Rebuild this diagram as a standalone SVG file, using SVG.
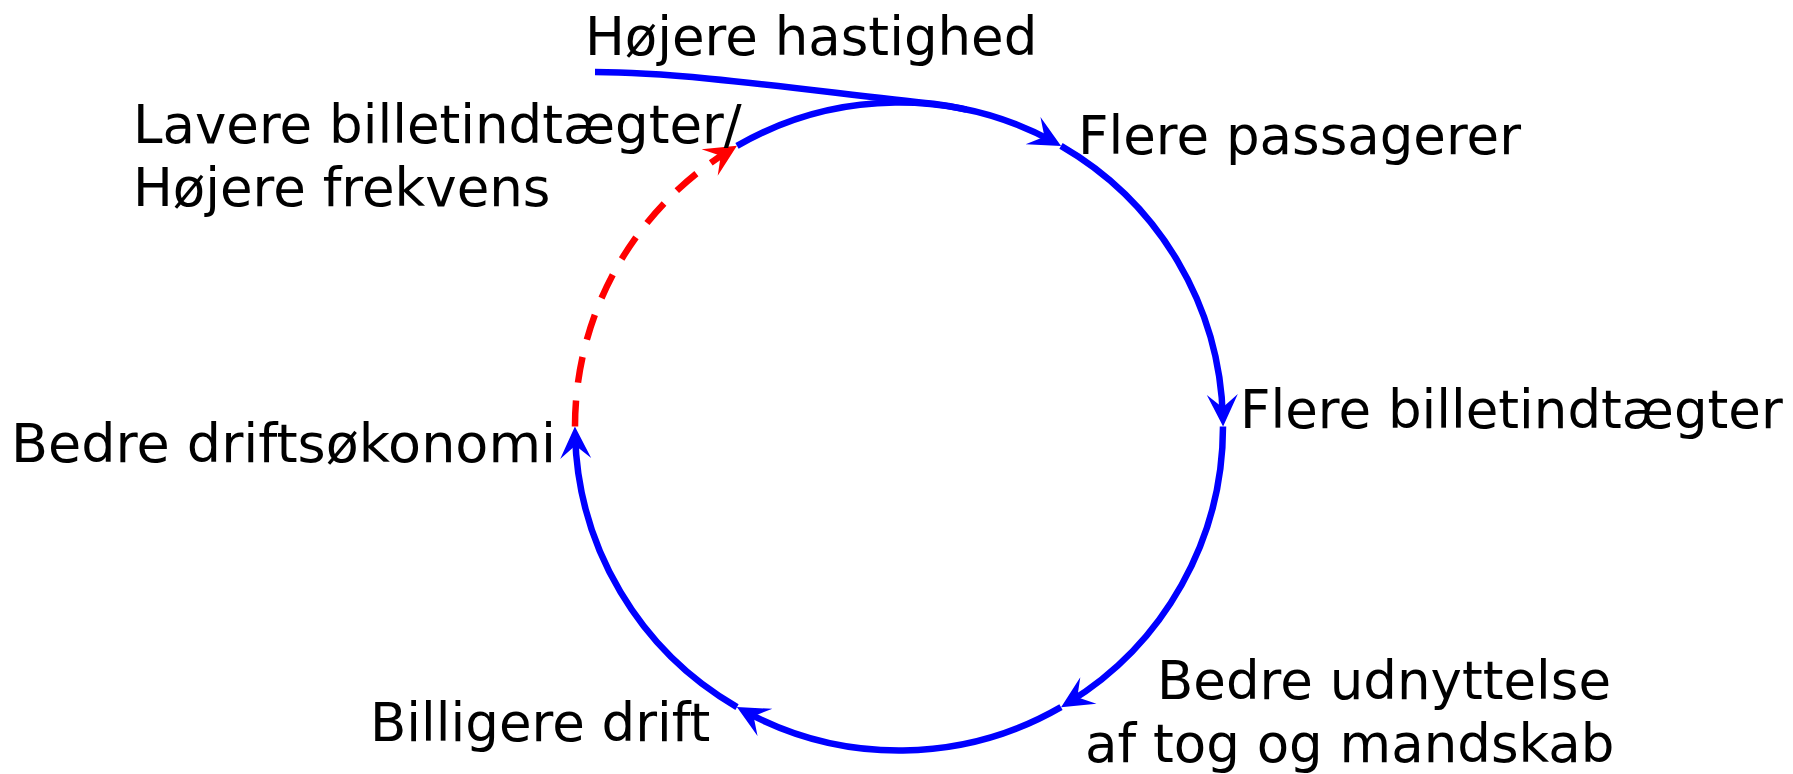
<svg xmlns="http://www.w3.org/2000/svg" width="1793" height="774" viewBox="0 0 1793 774">
<style>
.lbl{font-family:"DejaVu Sans","Bitstream Vera Sans",sans-serif;font-size:53px;fill:#000}
.b{fill:none;stroke:#0000ff;stroke-width:6.5}
.r{fill:none;stroke:#ff0000;stroke-width:6.5;stroke-dasharray:26 18}
</style>
<defs>
<marker id="ab" viewBox="-30 -20 45 40" refX="0" refY="0" markerWidth="45" markerHeight="40" markerUnits="userSpaceOnUse" orient="auto" overflow="visible">
<path d="M8,0 L-24,-15.5 L-11,0 L-24,15.5 Z" fill="#0000ff"/>
</marker>
<marker id="ar" viewBox="-30 -20 45 40" refX="0" refY="0" markerWidth="45" markerHeight="40" markerUnits="userSpaceOnUse" orient="auto" overflow="visible">
<path d="M8,0 L-24,-15.5 L-11,0 L-24,15.5 Z" fill="#ff0000"/>
</marker>
</defs>
<rect width="1793" height="774" fill="#fff"/>
<g id="connectors">
<path class="b" d="M595,72 C690,72 833,93.8 933.4,103.8 A324,324 0 0 1 966.4,109.6"/>
<path class="b" d="M737,145.9 A324,324 0 0 1 1054.1,142.1" marker-end="url(#ab)"/>
<path class="b" d="M1061,145.9 A324,324 0 0 1 1222.9,418.5" marker-end="url(#ab)"/>
<path class="b" d="M1223,426.5 A324,324 0 0 1 1067.9,703" marker-end="url(#ab)"/>
<path class="b" d="M1061,707.1 A324,324 0 0 1 743.9,710.9" marker-end="url(#ab)"/>
<path class="b" d="M737,707.1 A324,324 0 0 1 575.1,434.5" marker-end="url(#ab)"/>
<path class="r" d="M575,426.5 A324,324 0 0 1 730.1,150" marker-end="url(#ar)"/>
</g>
<g id="node-hastighed"><text class="lbl" x="585" y="55">Højere hastighed</text></g>
<g id="node-passagerer"><text class="lbl" x="1078" y="154">Flere passagerer</text></g>
<g id="node-billetindtaegter"><text class="lbl" x="1240" y="428">Flere billetindtægter</text></g>
<g id="node-udnyttelse"><text class="lbl" x="1157" y="699">Bedre udnyttelse</text><text class="lbl" x="1085" y="762">af tog og mandskab</text></g>
<g id="node-billigere"><text class="lbl" x="370" y="741">Billigere drift</text></g>
<g id="node-driftsokonomi"><text class="lbl" x="556" y="462" text-anchor="end" style="font-size:54px">Bedre driftsøkonomi</text></g>
<g id="node-lavere"><text class="lbl" x="133" y="143">Lavere billetindtægter/</text><text class="lbl" x="133" y="206">Højere frekvens</text></g>
</svg>
